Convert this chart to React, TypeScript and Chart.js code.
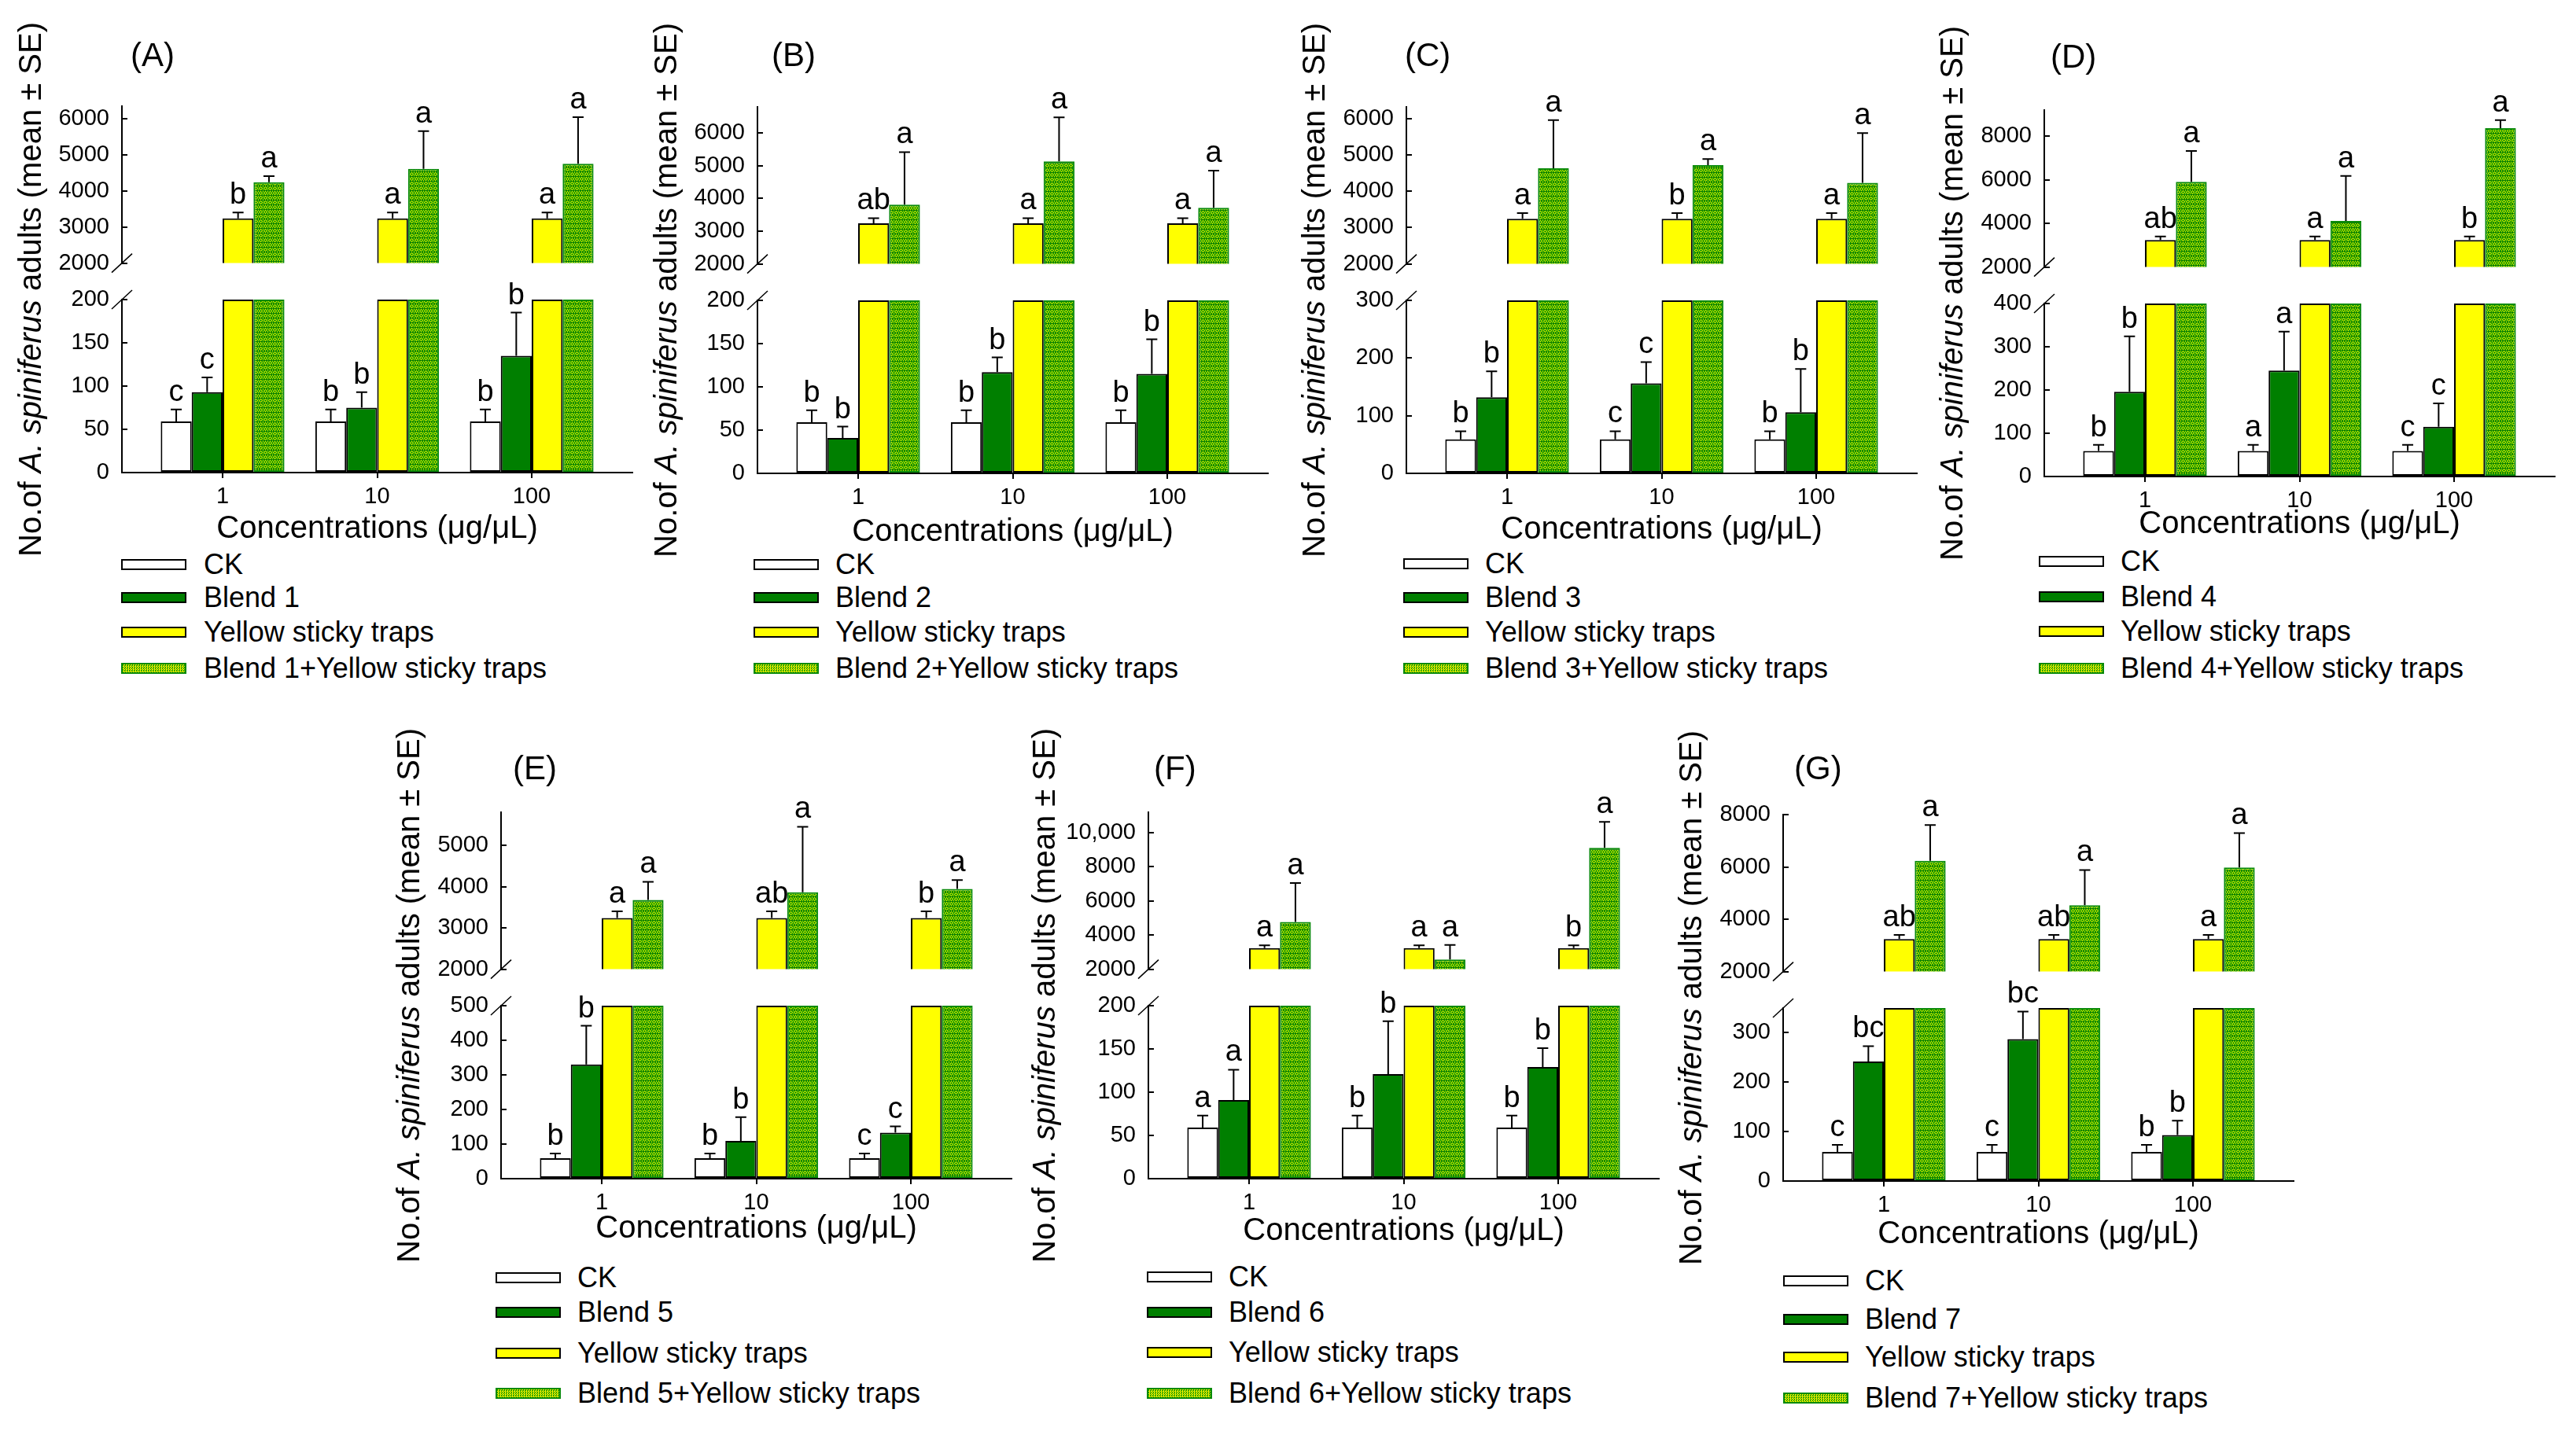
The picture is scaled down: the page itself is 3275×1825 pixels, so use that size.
import React, { useEffect, useRef } from 'react';
import { Chart, registerables } from 'chart.js';
Chart.register(...registerables);

// ---------------- data ----------------
const CONCENTRATIONS = ['1', '10', '100'];
const PANEL_IDS = ['A', 'B', 'C', 'D', 'E', 'F', 'G'];
const BLEND_NAMES = ['Blend 1', 'Blend 2', 'Blend 3', 'Blend 4', 'Blend 5', 'Blend 6', 'Blend 7'];

const CK_MEANS = [59, 59, 59];
const CK_SE = [14, 14, 14];
const YST_MEANS = [3240, 3240, 3240];
const YST_SE = [160, 160, 160];

const BLEND_MEANS = [
  [93, 75, 135], [41, 117, 115], [132, 156, 106], [196, 245, 115],
  [330, 109, 133], [91, 121, 129], [242, 287, 93],
];
const BLEND_SE = [
  [17, 18, 50], [13, 17, 40], [45, 37, 75], [128, 90, 54],
  [112, 69, 18], [35, 61, 22], [31, 56, 29],
];
const COMBO_MEANS = [
  [4244, 4611, 4756], [3815, 5136, 3716], [4630, 4718, 4232], [5904, 4118, 8369],
  [3679, 3862, 3944], [4773, 2564, 9117], [6237, 4536, 5980],
];
const COMBO_SE = [
  [167, 1045, 1288], [1605, 1345, 1136], [1326, 166, 1370], [1418, 2062, 368],
  [438, 1587, 214], [2282, 859, 1521], [1363, 1348, 1316],
];

const CK_LETTERS = [['c', 'b', 'b'], ['b', 'b', 'b'], ['b', 'c', 'b'], ['b', 'a', 'c'], ['b', 'b', 'c'], ['a', 'b', 'b'], ['c', 'c', 'b']];
const BLEND_LETTERS = [['c', 'b', 'b'], ['b', 'b', 'b'], ['b', 'c', 'b'], ['b', 'a', 'c'], ['b', 'b', 'c'], ['a', 'b', 'b'], ['bc', 'bc', 'b']];
const YST_LETTERS = [['b', 'a', 'a'], ['ab', 'a', 'a'], ['a', 'b', 'a'], ['ab', 'a', 'b'], ['a', 'ab', 'b'], ['a', 'a', 'b'], ['ab', 'ab', 'a']];
const COMBO_LETTERS = [['a', 'a', 'a'], ['a', 'a', 'a'], ['a', 'a', 'a'], ['a', 'a', 'a'], ['a', 'a', 'a'], ['a', 'a', 'a'], ['a', 'a', 'a']];

const BREAK_VALUE = 2000;
const TOP_MAX = [6350, 6800, 6320, 9200, 5800, 11200, 8000];
const TOP_STEP = [1000, 1000, 1000, 2000, 1000, 2000, 2000];
const BOTTOM_MAX = [200, 200, 300, 400, 500, 200, 350];
const BOTTOM_STEP = [50, 50, 100, 100, 100, 50, 100];

// ---------------- layout ----------------
const AXIS_LEFT = [155, 963, 1788, 2599, 637, 1460, 2267];
const AXIS_TOP = [135, 136, 136, 140, 1033, 1033, 1036];
const LABEL_DX = [11, 18, -2, 8, 15, 7, 14];
const LABEL_Y = [70, 70, 70, 72, 977, 977, 977];
const YTITLE_DX = [-117, -117, -118, -118, -118, -133, -118];
const XTITLE_DY = [69, 72, 69, 58, 61, 64, 65];
const LEGEND_SW_DX = [-1, -5, -4, -7, -7, -2, 0];
const LEGEND_TX_DX = [104, 99, 100, 97, 97, 102, 104];
const LEGEND_ROWS = [
  [718, 760, 804, 850], [718, 760, 804, 850], [717, 760, 804, 850], [714, 759, 803, 850],
  [1625, 1669, 1721, 1772], [1624, 1669, 1720, 1772], [1629, 1678, 1726, 1778],
];

const TOP_H = 220;
const GAP_H = 26;
const BOT_H = 220;
const AXIS_W = 649;
const FIRST_TICK = 128;
const TICK_GAP = 196.5;
const X_MIN = 1 - FIRST_TICK / TICK_GAP;
const X_MAX = 3 + FIRST_TICK / TICK_GAP;
const YW = 150;
const PAD_T = 60;
const PAD_R = 12;
const TOP_PAD_B = 20;
const X_H = 70;
const X_TICK_LEN = 7;
const X_LABEL_PAD = 6;

const FONT = '"Liberation Sans", Arial, Helvetica, sans-serif';
const COMBO_BORDER = '#0a8a0a';
const COMBO_GREEN = '#1a9c00';
const COMBO_YELLOW = '#eeee00';

function makePattern(ctx: CanvasRenderingContext2D) {
  const c = document.createElement('canvas');
  c.width = 6; c.height = 6;
  const g = c.getContext('2d')!;
  g.fillStyle = COMBO_GREEN;
  g.fillRect(0, 0, 6, 6);
  g.fillStyle = '#0c7e00';
  g.fillRect(0, 5, 6, 1);
  g.fillStyle = COMBO_YELLOW;
  const cells = [[2, 0], [1, 1], [3, 1], [0, 2], [4, 2], [1, 3], [3, 3], [2, 4], [5, 0], [5, 4]];
  cells.forEach(([x, y]) => g.fillRect(x, y, 1, 1));
  return ctx.createPattern(c, 'repeat')!;
}

const errorPlugin = {
  id: 'seLetters',
  afterDatasetsDraw(chart: any) {
    const ctx = chart.ctx;
    const ys = chart.scales.y;
    chart.data.datasets.forEach((ds: any, di: number) => {
      if (!ds.showSE) return;
      const meta = chart.getDatasetMeta(di);
      meta.data.forEach((el: any, i: number) => {
        const m = ds.means[i];
        if (m == null) return;
        const x = el.x;
        const y0 = ys.getPixelForValue(m);
        const y1 = ys.getPixelForValue(m + ds.se[i]);
        ctx.save();
        ctx.strokeStyle = '#000';
        ctx.lineWidth = 2;
        ctx.beginPath();
        ctx.moveTo(x, y0);
        ctx.lineTo(x, y1);
        ctx.moveTo(x - 7, y1);
        ctx.lineTo(x + 7, y1);
        ctx.stroke();
        ctx.fillStyle = '#000';
        ctx.font = `38px ${FONT}`;
        ctx.textAlign = 'center';
        ctx.textBaseline = 'alphabetic';
        ctx.fillText(ds.letters[i], x, y1 - 11);
        ctx.restore();
      });
    });
  },
};

const breakPlugin = {
  id: 'axisBreak',
  afterDraw(chart: any, _args: any, opts: any) {
    const { left, top, bottom } = chart.chartArea;
    const y = opts && opts.at === 'bottom' ? bottom : top;
    const ctx = chart.ctx;
    ctx.save();
    ctx.strokeStyle = '#000';
    ctx.lineWidth = 1.5;
    ctx.beginPath();
    ctx.moveTo(left - 13, y + 12);
    ctx.lineTo(left + 13, y - 12);
    ctx.stroke();
    ctx.restore();
  },
};

// outward tick marks on the category axis, at the scale's own tick values
const xTickPlugin = {
  id: 'xTickMarks',
  afterDraw(chart: any) {
    const xs = chart.scales.x;
    if (!xs || !xs.options.display) return;
    const ctx = chart.ctx;
    const y = chart.chartArea.bottom;
    ctx.save();
    ctx.strokeStyle = '#000';
    ctx.lineWidth = 2;
    ctx.beginPath();
    xs.ticks.forEach((t: any) => {
      const x = Math.round(xs.getPixelForValue(t.value));
      ctx.moveTo(x, y);
      ctx.lineTo(x, y + X_TICK_LEN);
    });
    ctx.stroke();
    ctx.restore();
  },
};

const fmtTick = (v: any) => (Number(v) >= 10000 ? Number(v).toLocaleString('en-US') : String(v));

function yScale(min: number, max: number, step: number) {
  return {
    type: 'linear' as const,
    min,
    max,
    afterFit: (s: any) => { s.width = YW; },
    afterBuildTicks: (s: any) => {
      const t: { value: number }[] = [];
      for (let v = min; v <= max + 1e-6; v += step) t.push({ value: v });
      s.ticks = t;
    },
    ticks: {
      color: '#000',
      font: { family: FONT, size: 29 },
      padding: 23,
      callback: fmtTick,
    },
    grid: { display: true, drawOnChartArea: false, drawTicks: true, tickLength: -7, color: '#000', lineWidth: 2 },
    border: { display: true, color: '#000', width: 2 },
  };
}

const xTicks = (s: any) => { s.ticks = CONCENTRATIONS.map((_, i) => ({ value: i + 1 })); };

function Panel({ p }: { p: number }) {
  const topRef = useRef<HTMLCanvasElement>(null);
  const botRef = useRef<HTMLCanvasElement>(null);
  const axisL = AXIS_LEFT[p];
  const axisT = AXIS_TOP[p];
  const yBreak = axisT + TOP_H;
  const botTop = yBreak + GAP_H;
  const zeroY = botTop + BOT_H;
  const canvasW = YW + AXIS_W + PAD_R;
  const topH = PAD_T + TOP_H + TOP_PAD_B;
  const botH = PAD_T + BOT_H + X_H;
  const blend = BLEND_NAMES[p];
  const combo = `${blend}+Yellow sticky traps`;

  useEffect(() => {
    const tctx = topRef.current!.getContext('2d')!;
    const bctx = botRef.current!.getContext('2d')!;
    const pts = (arr: (number | null)[]) => arr.map((v, i) => ({ x: i + 1, y: v }));
    const botMax = BOTTOM_MAX[p];
    const barDefaults = { categoryPercentage: 0.8, barPercentage: 1, borderWidth: 2, borderSkipped: false };

    const top = new Chart(topRef.current!, {
      type: 'bar',
      data: {
        datasets: [
          { label: 'CK', data: pts([null, null, null]), backgroundColor: '#fff', borderColor: '#000', ...barDefaults },
          { label: blend, data: pts([null, null, null]), backgroundColor: '#007f00', borderColor: '#000', ...barDefaults },
          {
            label: 'Yellow sticky traps', data: pts(YST_MEANS), backgroundColor: '#ffff00', borderColor: '#000', ...barDefaults,
            showSE: true, means: YST_MEANS, se: YST_SE, letters: YST_LETTERS[p],
          },
          {
            label: combo, data: pts(COMBO_MEANS[p]), backgroundColor: makePattern(tctx), borderColor: COMBO_BORDER, ...barDefaults,
            showSE: true, means: COMBO_MEANS[p], se: COMBO_SE[p], letters: COMBO_LETTERS[p],
          },
        ] as any,
      },
      options: {
        responsive: false,
        animation: false,
        layout: { padding: { top: PAD_T, bottom: TOP_PAD_B, left: 0, right: PAD_R } },
        plugins: { legend: { display: false }, tooltip: { enabled: false }, axisBreak: { at: 'bottom' } } as any,
        scales: {
          x: {
            type: 'linear', min: X_MIN, max: X_MAX, offset: false, display: false,
            afterBuildTicks: xTicks,
            grid: { display: false },
          },
          y: yScale(BREAK_VALUE, TOP_MAX[p], TOP_STEP[p]),
        } as any,
      },
      plugins: [errorPlugin, breakPlugin],
    });

    const bot = new Chart(botRef.current!, {
      type: 'bar',
      data: {
        datasets: [
          {
            label: 'CK', data: pts(CK_MEANS.map((v) => Math.min(v, botMax))), backgroundColor: '#fff', borderColor: '#000', ...barDefaults,
            showSE: true, means: CK_MEANS, se: CK_SE, letters: CK_LETTERS[p],
          },
          {
            label: blend, data: pts(BLEND_MEANS[p].map((v) => Math.min(v, botMax))), backgroundColor: '#007f00', borderColor: '#000', ...barDefaults,
            showSE: true, means: BLEND_MEANS[p], se: BLEND_SE[p], letters: BLEND_LETTERS[p],
          },
          { label: 'Yellow sticky traps', data: pts(YST_MEANS.map((v) => Math.min(v, botMax))), backgroundColor: '#ffff00', borderColor: '#000', ...barDefaults },
          { label: combo, data: pts(COMBO_MEANS[p].map((v) => Math.min(v, botMax))), backgroundColor: makePattern(bctx), borderColor: COMBO_BORDER, ...barDefaults },
        ] as any,
      },
      options: {
        responsive: false,
        animation: false,
        layout: { padding: { top: PAD_T, bottom: 0, left: 0, right: PAD_R } },
        plugins: { legend: { display: false }, tooltip: { enabled: false }, axisBreak: { at: 'top' } } as any,
        scales: {
          x: {
            type: 'linear', min: X_MIN, max: X_MAX, offset: false,
            afterBuildTicks: xTicks,
            afterFit: (s: any) => { s.height = X_H; },
            ticks: {
              autoSkip: false, maxRotation: 0, color: '#000', padding: X_LABEL_PAD,
              font: { family: FONT, size: 29 },
              callback: (v: any) => CONCENTRATIONS[Math.round(Number(v)) - 1] ?? '',
            },
            grid: { display: false },
            border: { display: true, color: '#000', width: 2 },
          },
          y: yScale(0, botMax, BOTTOM_STEP[p]),
        } as any,
      },
      plugins: [errorPlugin, breakPlugin, xTickPlugin],
    });

    return () => { top.destroy(); bot.destroy(); };
  }, []);

  const legendItems = [
    { label: 'CK', style: { background: '#fff', border: '2px solid #000' } },
    { label: blend, style: { background: '#007f00', border: '2px solid #000' } },
    { label: 'Yellow sticky traps', style: { background: '#ffff00', border: '2px solid #000' } },
    {
      label: combo,
      style: {
        background: `repeating-conic-gradient(${COMBO_YELLOW} 0% 25%, ${COMBO_GREEN} 0% 50%) 0 0 / 3px 3px`,
        border: `2px solid ${COMBO_BORDER}`,
      },
    },
  ];

  return (
    <>
      <canvas
        ref={topRef}
        width={canvasW}
        height={topH}
        style={{ position: 'absolute', left: axisL - YW, top: axisT - PAD_T, width: canvasW, height: topH, display: 'block' }}
      />
      <canvas
        ref={botRef}
        width={canvasW}
        height={botH}
        style={{ position: 'absolute', left: axisL - YW, top: botTop - PAD_T, width: canvasW, height: botH, display: 'block' }}
      />
      <div
        style={{
          position: 'absolute', left: axisL + LABEL_DX[p], top: LABEL_Y[p], transform: 'translateY(-50%)',
          fontSize: 42, lineHeight: 1, whiteSpace: 'nowrap',
        }}
      >
        ({PANEL_IDS[p]})
      </div>
      <div
        style={{
          position: 'absolute', left: axisL + YTITLE_DX[p], top: axisT + 233,
          transform: 'translate(-50%, -50%) rotate(-90deg)', fontSize: 40, lineHeight: 1, whiteSpace: 'nowrap',
        }}
      >
        No.of <i>A. spiniferus</i> adults (mean ± SE)
      </div>
      <div
        style={{
          position: 'absolute', left: axisL + FIRST_TICK + TICK_GAP, top: zeroY + XTITLE_DY[p],
          transform: 'translate(-50%, -50%)', fontSize: 40, lineHeight: 1, whiteSpace: 'nowrap',
        }}
      >
        Concentrations (μg/μL)
      </div>
      {legendItems.map((it, k) => (
        <React.Fragment key={k}>
          <div
            style={{
              position: 'absolute', left: axisL + LEGEND_SW_DX[p], top: LEGEND_ROWS[p][k] - 7,
              width: 83, height: 14, boxSizing: 'border-box', ...it.style,
            }}
          />
          <div
            style={{
              position: 'absolute', left: axisL + LEGEND_TX_DX[p], top: LEGEND_ROWS[p][k],
              transform: 'translateY(-50%)', fontSize: 36, lineHeight: 1, whiteSpace: 'nowrap',
            }}
          >
            {it.label}
          </div>
        </React.Fragment>
      ))}
    </>
  );
}

export default function App() {
  return (
    <div
      style={{
        position: 'absolute', left: 0, top: 0, width: 3275, height: 1825, background: '#fff',
        fontFamily: FONT, color: '#000', overflow: 'hidden',
      }}
    >
      {PANEL_IDS.map((_, p) => (
        <Panel key={p} p={p} />
      ))}
    </div>
  );
}
